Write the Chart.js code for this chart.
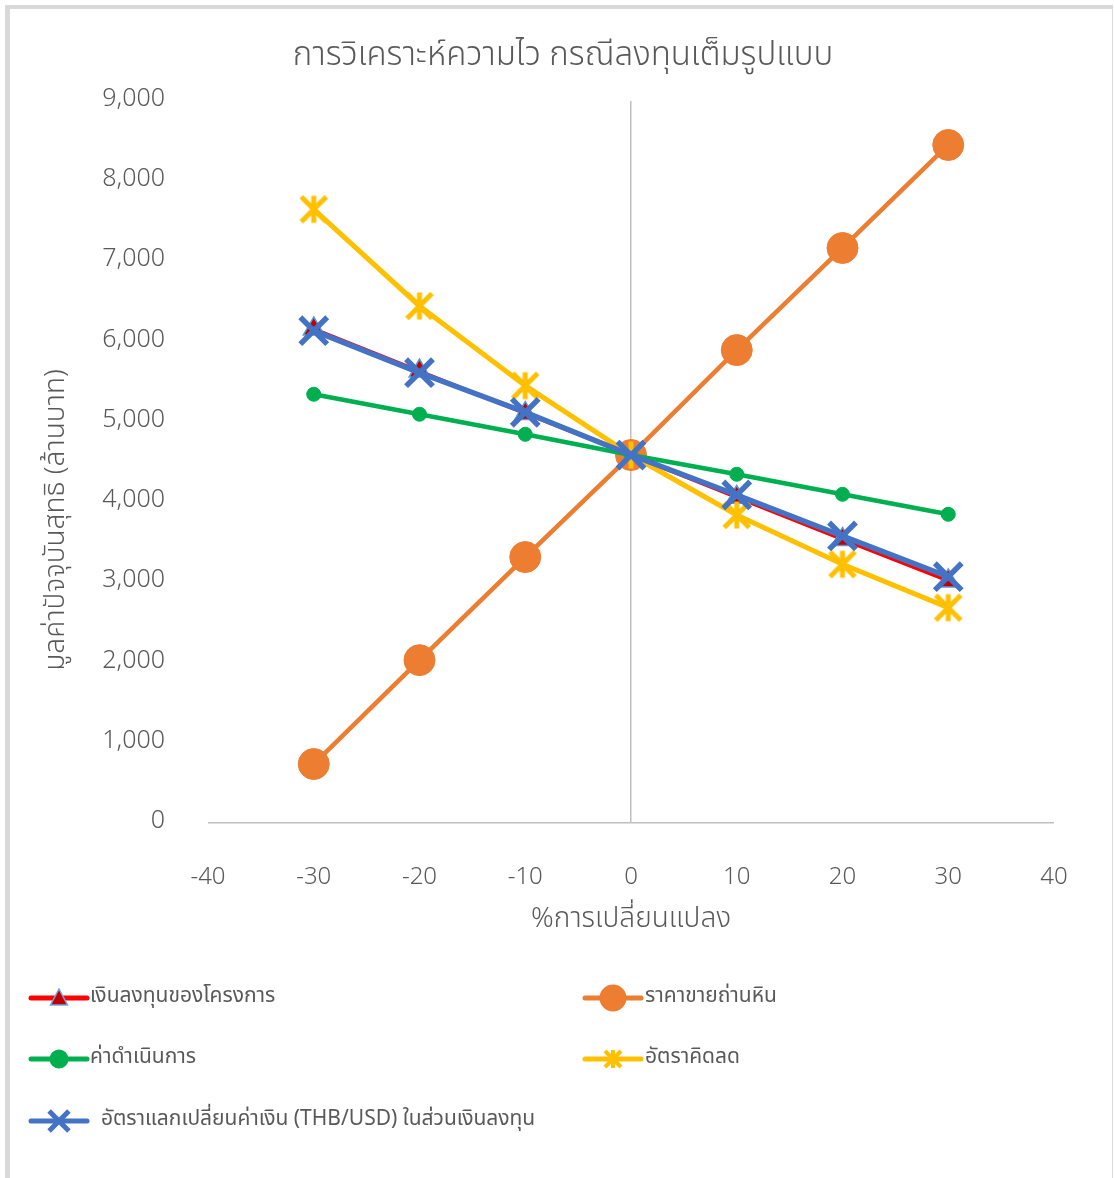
<!DOCTYPE html>
<html>
<head>
<meta charset="utf-8">
<title>การวิเคราะห์ความไว กรณีลงทุนเต็มรูปแบบ</title>
<script src="https://cdn.jsdelivr.net/npm/chart.js@4/dist/chart.umd.min.js"></script>
<style>
  html, body { margin: 0; padding: 0; background: #ffffff; }
  #wrap { position: relative; width: 1114px; height: 1178px; }
  #frame {
    position: absolute; left: 5px; top: 5px; right: 1px; bottom: 0;
    border-left: 5px solid #d9d9d9; border-top: 4px solid #d9d9d9; border-right: 1px solid #d9d9d9;
    box-sizing: border-box; pointer-events: none;
  }
  canvas { position: absolute; left: 0; top: 0; }
</style>
</head>
<body>
<div id="wrap">
  <canvas id="chart" width="1114" height="1178"></canvas>
  <div id="frame"></div>
</div>
<script>
// % change applied to each input
const pctChange = [-30, -20, -10, 0, 10, 20, 30];

// NPV (million baht) for each sensitivity case
const investment    = [6158, 5634, 5105, 4587, 4060, 3535, 3017];
const coalPrice     = [735, 2030, 3315, 4587, 5895, 7168, 8452];
const operatingCost = [5344, 5095, 4845, 4587, 4347, 4097, 3848];
const discountRate  = [7650, 6445, 5451, 4587, 3839, 3225, 2684];
const exchangeRate  = [6137, 5613, 5120, 4587, 4089, 3578, 3070];

const seriesNames = [
  'เงินลงทุนของโครงการ',
  'ราคาขายถ่านหิน',
  'ค่าดำเนินการ',
  'อัตราคิดลด',
  '  อัตราแลกเปลี่ยนค่าเงิน (THB/USD) ในส่วนเงินลงทุน'
];

const chartTitle = 'การวิเคราะห์ความไว กรณีลงทุนเต็มรูปแบบ';
const xTitle = '%การเปลี่ยนแปลง';
const yTitle = 'มูลค่าปัจจุบันสุทธิ (ล้านบาท)';

const FONT = "'Noto Sans Thai', 'Leelawadee UI', Tahoma, 'Noto Sans', sans-serif";
const TEXT = '#595959';

// asterisk marker: vertical bar plus an X
function asteriskMarker(size, lw, color) {
  const c = document.createElement('canvas');
  c.width = size; c.height = size;
  const g = c.getContext('2d');
  const m = size / 2, a = m - lw / 2 - 1;
  g.strokeStyle = color; g.lineWidth = lw; g.lineCap = 'butt';
  g.beginPath();
  g.moveTo(m, m - a - 1); g.lineTo(m, m + a + 1);
  g.moveTo(m - a, m - a); g.lineTo(m + a, m + a);
  g.moveTo(m + a, m - a); g.lineTo(m - a, m + a);
  g.stroke();
  return c;
}
const starBig = asteriskMarker(32, 5, '#FFC000');
const starSmall = asteriskMarker(22, 4, '#FFC000');

const toPoints = ys => pctChange.map((x, i) => ({ x: x, y: ys[i] }));

const datasets = [
  { label: seriesNames[0], data: toPoints(investment), borderColor: '#FF0000', borderWidth: 3.5,
    pointStyle: 'triangle', pointRadius: 12, pointBackgroundColor: '#C00000',
    pointBorderColor: '#5B9BD5', pointBorderWidth: 1.5, order: 5,
    legendMarker: { style: 'tri', radius: 10, fill: '#C00000', stroke: '#6FA8DC', lw: 1.5 } },
  { label: seriesNames[1], data: toPoints(coalPrice), borderColor: '#ED7D31', borderWidth: 4.5,
    pointStyle: 'circle', pointRadius: 15.5, pointBackgroundColor: '#ED7D31',
    pointBorderColor: '#ED7D31', pointBorderWidth: 1, order: 4,
    legendMarker: { style: 'circle', radius: 11, fill: '#ED7D31', stroke: '#ED7D31', lw: 1 } },
  { label: seriesNames[2], data: toPoints(operatingCost), borderColor: '#00B050', borderWidth: 4.5,
    pointStyle: 'circle', pointRadius: 7, pointBackgroundColor: '#00B050',
    pointBorderColor: '#00B050', pointBorderWidth: 1, order: 3,
    legendMarker: { style: 'circle', radius: 7, fill: '#00B050', stroke: '#00B050', lw: 1 } },
  { label: seriesNames[3], data: toPoints(discountRate), borderColor: '#FFC000', borderWidth: 5,
    pointStyle: starBig, pointRadius: 16, order: 2,
    legendMarker: { style: starSmall, radius: 11 } },
  { label: seriesNames[4], data: toPoints(exchangeRate), borderColor: '#4472C4', borderWidth: 5.5,
    pointStyle: 'crossRot', pointRadius: 19, pointBorderColor: '#4472C4',
    pointBackgroundColor: '#4472C4', pointBorderWidth: 5.5, order: 1,
    legendMarker: { style: 'crossRot', radius: 14, fill: '#4472C4', stroke: '#4472C4', lw: 5 } }
].map(d => Object.assign({ showLine: true, tension: 0, fill: false, pointHoverRadius: d.pointRadius }, d));

// two-column legend below the plot
const legendPlugin = {
  id: 'gridLegend',
  afterDraw(chart) {
    const ctx = chart.ctx;
    const cols = [{ x0: 31, x1: 87, mx: 59, tx: 90 }, { x0: 585, x1: 641, mx: 613, tx: 645 }];
    const rows = [998, 1059, 1121];
    chart.data.datasets.forEach((ds, i) => {
      const c = cols[i % 2], y = rows[Math.floor(i / 2)];
      ctx.save();
      ctx.strokeStyle = ds.borderColor;
      ctx.lineWidth = 5;
      ctx.lineCap = 'round';
      ctx.beginPath(); ctx.moveTo(c.x0, y); ctx.lineTo(c.x1, y); ctx.stroke();
      const m = ds.legendMarker;
      ctx.fillStyle = m.fill || ds.borderColor;
      ctx.strokeStyle = m.stroke || ds.borderColor;
      ctx.lineCap = 'butt';
      if (m.style === 'tri') {
        // upward triangle, flat base sitting just below the line
        ctx.lineWidth = m.lw;
        ctx.beginPath();
        ctx.moveTo(c.mx, y - 9);
        ctx.lineTo(c.mx + 8.5, y + 7);
        ctx.lineTo(c.mx - 8.5, y + 7);
        ctx.closePath();
        ctx.fill();
        ctx.stroke();
      } else {
        Chart.helpers.drawPoint(ctx, { pointStyle: m.style, radius: m.radius, borderWidth: m.lw || 1, rotation: 0 }, c.mx, y);
      }
      ctx.fillStyle = TEXT;
      ctx.font = '21px ' + FONT;
      ctx.textBaseline = 'middle';
      ctx.textAlign = 'left';
      ctx.fillText(ds.label, c.tx, y);
      ctx.restore();
    });
  }
};

// chart heading and the vertical title of the value axis
const titlesPlugin = {
  id: 'titles',
  afterDraw(chart) {
    const ctx = chart.ctx;
    ctx.save();
    ctx.fillStyle = TEXT;
    ctx.textAlign = 'center';
    ctx.textBaseline = 'middle';
    ctx.font = '300 33px ' + FONT;
    ctx.fillText(chartTitle, 563, 58);
    ctx.translate(58, 520);
    ctx.rotate(-Math.PI / 2);
    ctx.font = '300 28px ' + FONT;
    ctx.fillText(yTitle, 0, 0);
    ctx.restore();
  }
};

const zeroLine = ctx => (ctx.tick && ctx.tick.value === 0) ? '#BFBFBF' : 'rgba(0,0,0,0)';

new Chart(document.getElementById('chart'), {
  type: 'scatter',
  data: { datasets: datasets },
  options: {
    responsive: false,
    animation: false,
    devicePixelRatio: 1,
    layout: { padding: { top: 101, right: 60, bottom: 225, left: 0 } },
    plugins: {
      legend: { display: false },
      tooltip: { enabled: false },
      title: { display: false }
    },
    scales: {
      x: {
        type: 'linear', min: -40, max: 40,
        ticks: { stepSize: 10, color: TEXT, padding: 42, font: { family: FONT, size: 24, weight: '300' } },
        grid: { color: zeroLine, lineWidth: 1.5, drawTicks: false },
        border: { display: false },
        title: { display: true, text: xTitle, color: TEXT, font: { family: FONT, size: 28, weight: '300' }, padding: { top: 0, bottom: 15 } },
        afterFit(s) { s.height = 130; }
      },
      y: {
        type: 'linear', min: 0, max: 9000,
        ticks: { stepSize: 1000, color: TEXT, padding: 43, font: { family: FONT, size: 25, weight: '300' },
                 callback: v => v.toLocaleString('en-US') },
        grid: { color: zeroLine, lineWidth: 1.5, drawTicks: false },
        border: { display: false },
        afterFit(s) { s.width = 208; }
      }
    }
  },
  plugins: [legendPlugin, titlesPlugin]
});
</script>
</body>
</html>
